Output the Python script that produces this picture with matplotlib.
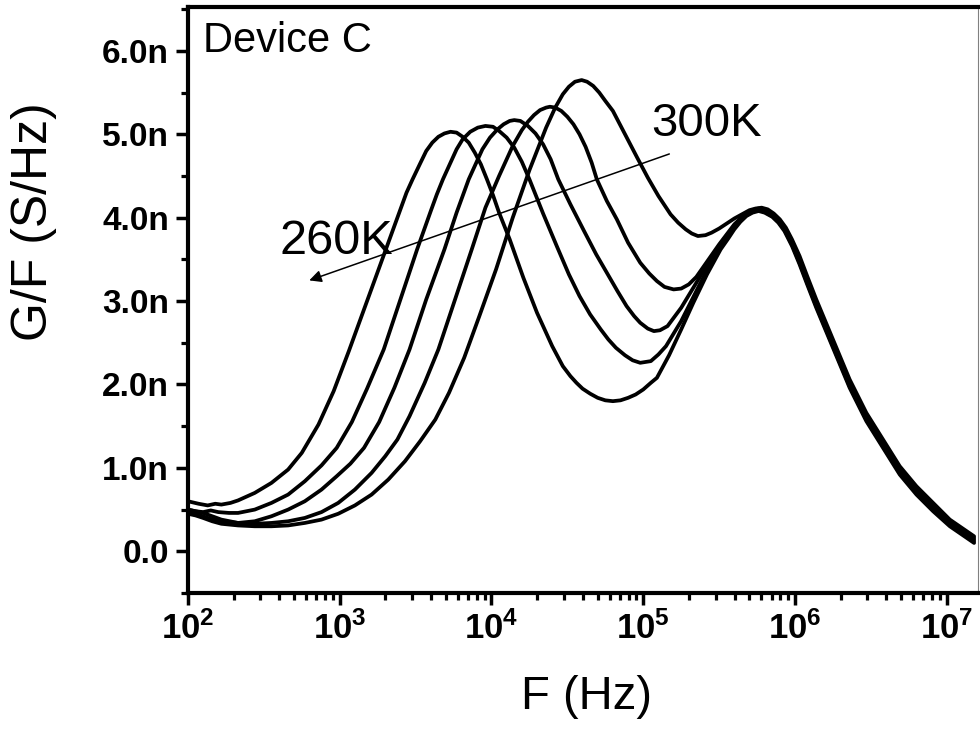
import numpy as np
import matplotlib

matplotlib.use('Agg')
import matplotlib.pyplot as plt
import matplotlib.ticker as ticker

plt.rcParams['font.family'] = ['Liberation Sans', 'DejaVu Sans']
plt.rcParams['mathtext.fontset'] = 'custom'
plt.rcParams['mathtext.rm'] = 'Liberation Sans'
plt.rcParams['mathtext.bf'] = 'Liberation Sans:bold'

# 数据：log10(F) 与 G/F (单位 nS/Hz)，260K ~ 300K
logf_260 = [2.00, 2.07, 2.13, 2.18, 2.22, 2.28, 2.33, 2.44, 2.55, 2.66, 2.75, 2.86, 2.96, 3.06, 3.18, 3.30,
            3.40, 3.44, 3.48, 3.53, 3.57, 3.61, 3.65, 3.69, 3.73, 3.77, 3.81, 3.85, 3.89, 3.93, 3.97, 4.01,
            4.05, 4.12, 4.21, 4.30, 4.40, 4.47, 4.52, 4.56, 4.60, 4.65, 4.70, 4.75, 4.80, 4.85, 4.90, 4.95,
            5.00, 5.05, 5.09, 5.17, 5.25, 5.33, 5.42, 5.51, 5.56, 5.60, 5.64, 5.68, 5.72, 5.76, 5.80, 5.85,
            5.89, 5.93, 5.98, 6.03, 6.08, 6.14, 6.25, 6.36, 6.47, 6.58, 6.69, 6.80, 6.91, 7.02, 7.10, 7.18]
gf_260 = [0.60, 0.57, 0.55, 0.57, 0.56, 0.58, 0.61, 0.70, 0.82, 0.98, 1.18, 1.52, 1.92, 2.40, 3.00, 3.60,
          4.10, 4.30, 4.46, 4.65, 4.80, 4.90, 4.97, 5.01, 5.03, 5.02, 4.97, 4.90, 4.78, 4.64, 4.46, 4.27,
          4.06, 3.74, 3.28, 2.86, 2.46, 2.22, 2.10, 2.02, 1.95, 1.89, 1.84, 1.81, 1.80, 1.81, 1.84, 1.88,
          1.94, 2.02, 2.08, 2.35, 2.66, 2.98, 3.32, 3.62, 3.75, 3.86, 3.95, 4.02, 4.06, 4.08, 4.06, 4.01,
          3.94, 3.84, 3.66, 3.44, 3.20, 2.92, 2.44, 1.96, 1.56, 1.24, 0.92, 0.68, 0.48, 0.30, 0.20, 0.10]

logf_270 = [2.00, 2.05, 2.10, 2.15, 2.20, 2.27, 2.33, 2.44, 2.55, 2.66, 2.77, 2.88, 2.98, 3.08, 3.18, 3.29,
            3.40, 3.51, 3.60, 3.64, 3.68, 3.73, 3.77, 3.81, 3.86, 3.91, 3.96, 4.01, 4.05, 4.10, 4.15, 4.20,
            4.25, 4.34, 4.43, 4.51, 4.58, 4.65, 4.72, 4.77, 4.82, 4.88, 4.93, 4.98, 5.05, 5.10, 5.15, 5.25,
            5.35, 5.45, 5.51, 5.56, 5.60, 5.64, 5.68, 5.72, 5.76, 5.80, 5.85, 5.89, 5.93, 5.98, 6.03, 6.08,
            6.14, 6.25, 6.36, 6.47, 6.58, 6.69, 6.80, 6.91, 7.02, 7.10, 7.18]
gf_270 = [0.50, 0.48, 0.47, 0.49, 0.47, 0.46, 0.46, 0.50, 0.58, 0.68, 0.84, 1.03, 1.24, 1.55, 1.95, 2.42,
          3.02, 3.62, 4.08, 4.28, 4.46, 4.66, 4.82, 4.94, 5.03, 5.08, 5.10, 5.09, 5.04, 4.96, 4.84, 4.67,
          4.46, 4.05, 3.66, 3.32, 3.06, 2.84, 2.66, 2.54, 2.44, 2.35, 2.29, 2.26, 2.28, 2.36, 2.46, 2.76,
          3.12, 3.48, 3.66, 3.79, 3.88, 3.97, 4.03, 4.07, 4.09, 4.07, 4.02, 3.95, 3.86, 3.68, 3.46, 3.22,
          2.94, 2.46, 1.98, 1.58, 1.26, 0.94, 0.70, 0.50, 0.32, 0.22, 0.12]

logf_280 = [2.00, 2.05, 2.10, 2.16, 2.22, 2.33, 2.44, 2.55, 2.66, 2.77, 2.88, 2.98, 3.07, 3.16, 3.26, 3.36,
            3.46, 3.57, 3.69, 3.77, 3.85, 3.90, 3.94, 3.99, 4.04, 4.08, 4.12, 4.15, 4.19, 4.24, 4.29, 4.34,
            4.39, 4.44, 4.52, 4.61, 4.69, 4.76, 4.83, 4.89, 4.94, 4.98, 5.03, 5.07, 5.11, 5.16, 5.25, 5.35,
            5.45, 5.51, 5.56, 5.60, 5.64, 5.68, 5.72, 5.76, 5.80, 5.85, 5.89, 5.93, 5.98, 6.03, 6.08, 6.14,
            6.25, 6.36, 6.47, 6.58, 6.69, 6.80, 6.91, 7.02, 7.10, 7.18]
gf_280 = [0.47, 0.45, 0.42, 0.38, 0.36, 0.34, 0.36, 0.42, 0.50, 0.60, 0.74, 0.90, 1.05, 1.24, 1.55, 1.96,
          2.42, 3.02, 3.62, 4.06, 4.46, 4.66, 4.82, 4.96, 5.06, 5.12, 5.16, 5.17, 5.16, 5.10, 5.01, 4.88,
          4.70, 4.46, 4.16, 3.84, 3.56, 3.34, 3.12, 2.94, 2.82, 2.74, 2.67, 2.64, 2.65, 2.70, 2.92, 3.22,
          3.52, 3.69, 3.81, 3.90, 3.98, 4.04, 4.08, 4.10, 4.08, 4.03, 3.96, 3.87, 3.70, 3.48, 3.24, 2.96,
          2.48, 2.00, 1.60, 1.28, 0.96, 0.72, 0.52, 0.34, 0.24, 0.14]

logf_290 = [2.00, 2.05, 2.10, 2.16, 2.22, 2.33, 2.44, 2.55, 2.66, 2.77, 2.88, 2.99, 3.10, 3.21, 3.30, 3.38,
            3.46, 3.56, 3.65, 3.76, 3.87, 3.96, 4.05, 4.14, 4.20, 4.24, 4.28, 4.32, 4.36, 4.385, 4.42, 4.46,
            4.50, 4.54, 4.58, 4.62, 4.66, 4.694, 4.76, 4.826, 4.90, 4.98, 5.04, 5.09, 5.14, 5.20, 5.25, 5.30,
            5.35, 5.40, 5.45, 5.50, 5.55, 5.60, 5.64, 5.68, 5.72, 5.76, 5.80, 5.85, 5.89, 5.93, 5.98, 6.03,
            6.08, 6.14, 6.25, 6.36, 6.47, 6.58, 6.69, 6.80, 6.91, 7.02, 7.10, 7.18]
gf_290 = [0.50, 0.48, 0.46, 0.42, 0.38, 0.34, 0.33, 0.34, 0.36, 0.40, 0.47, 0.58, 0.74, 0.94, 1.14, 1.34,
          1.62, 2.02, 2.42, 3.02, 3.62, 4.12, 4.50, 4.86, 5.05, 5.15, 5.23, 5.29, 5.32, 5.33, 5.32, 5.28,
          5.21, 5.12, 5.00, 4.85, 4.66, 4.46, 4.20, 3.98, 3.70, 3.46, 3.33, 3.24, 3.17, 3.14, 3.15, 3.20,
          3.29, 3.42, 3.55, 3.68, 3.80, 3.92, 3.99, 4.05, 4.09, 4.11, 4.09, 4.05, 3.97, 3.88, 3.71, 3.50,
          3.26, 2.98, 2.50, 2.02, 1.62, 1.30, 0.98, 0.74, 0.54, 0.36, 0.26, 0.16]

logf_300 = [2.00, 2.05, 2.10, 2.16, 2.22, 2.33, 2.44, 2.55, 2.66, 2.77, 2.88, 2.99, 3.10, 3.21, 3.32, 3.43,
            3.53, 3.63, 3.72, 3.82, 3.92, 4.03, 4.14, 4.25, 4.36, 4.42, 4.47, 4.51, 4.55, 4.594, 4.63, 4.67,
            4.71, 4.75, 4.80, 4.88, 4.96, 5.03, 5.10, 5.18, 5.23, 5.28, 5.32, 5.36, 5.41, 5.45, 5.50, 5.55,
            5.60, 5.65, 5.70, 5.74, 5.78, 5.82, 5.86, 5.90, 5.94, 5.98, 6.03, 6.08, 6.14, 6.25, 6.36, 6.47,
            6.58, 6.69, 6.80, 6.91, 7.02, 7.10, 7.18]
gf_300 = [0.45, 0.43, 0.40, 0.36, 0.33, 0.31, 0.30, 0.30, 0.31, 0.34, 0.38, 0.45, 0.55, 0.68, 0.86, 1.08,
          1.32, 1.58, 1.90, 2.32, 2.82, 3.38, 4.00, 4.57, 5.08, 5.32, 5.48, 5.57, 5.63, 5.65, 5.63, 5.58,
          5.50, 5.40, 5.28, 5.00, 4.72, 4.48, 4.26, 4.04, 3.94, 3.86, 3.81, 3.78, 3.79, 3.82, 3.87, 3.93,
          3.99, 4.04, 4.09, 4.11, 4.12, 4.10, 4.05, 3.98, 3.88, 3.74, 3.54, 3.30, 3.02, 2.54, 2.06, 1.66,
          1.34, 1.02, 0.78, 0.58, 0.38, 0.28, 0.18]

curves = [(logf_260, gf_260), (logf_270, gf_270), (logf_280, gf_280),
          (logf_290, gf_290), (logf_300, gf_300)]

y_ticks = [0, 1, 2, 3, 4, 5, 6]
y_labels = ['0.0', '1.0n', '2.0n', '3.0n', '4.0n', '5.0n', '6.0n']
x_ticks = [1e2, 1e3, 1e4, 1e5, 1e6, 1e7]
x_labels = [r'$\mathbf{10^{2}}$', r'$\mathbf{10^{3}}$', r'$\mathbf{10^{4}}$',
            r'$\mathbf{10^{5}}$', r'$\mathbf{10^{6}}$', r'$\mathbf{10^{7}}$']

fig = plt.figure(figsize=(9.8, 7.35), dpi=100)
ax = fig.add_axes([0.1918, 0.1932, 0.8062, 0.7966])

for lf, g in curves:
    ax.plot(10 ** np.array(lf), g, color='black', linewidth=2.7,
            solid_capstyle='round', solid_joinstyle='round')

ax.set_xscale('log')
ax.set_xlim(1e2, 10 ** 7.206)
ax.set_ylim(-0.5, 6.52)

ax.set_xticks(x_ticks)
ax.set_xticklabels(x_labels, fontsize=25)
ax.xaxis.set_minor_locator(ticker.LogLocator(base=10, subs=np.arange(2, 10), numticks=20))
ax.xaxis.set_minor_formatter(ticker.NullFormatter())
ax.set_yticks(y_ticks)
ax.set_yticklabels(y_labels, fontsize=24, fontweight='bold')
ax.yaxis.set_minor_locator(ticker.MultipleLocator(0.5))

ax.tick_params(which='major', direction='out', length=8.5, width=2.5, pad=5)
ax.tick_params(which='minor', direction='out', length=5, width=2.3)

for s in ['left', 'bottom', 'top']:
    ax.spines[s].set_linewidth(3.0)
ax.spines['right'].set_linewidth(0.8)
ax.spines['right'].set_color('gray')

ax.set_xlabel('F (Hz)', fontsize=34)
ax.xaxis.set_label_coords(0.504, -0.14)
ax.set_ylabel('G/F (S/Hz)', fontsize=36)
ax.yaxis.set_label_coords(-0.166, 0.634)

ax.text(0.019, 0.924, 'Device C', transform=ax.transAxes, fontsize=30, va='baseline', ha='left')
ax.text(1.13e5, 4.98, '300K', fontsize=34, va='baseline', ha='left')
ax.text(4.0e2, 3.56, '260K', fontsize=35, va='baseline', ha='left')
ax.annotate('', xy=(10 ** 2.782, 3.237), xytext=(10 ** 5.189, 4.775),
            arrowprops=dict(arrowstyle='-|>', color='black', lw=1.1, mutation_scale=18))

plt.savefig('out.png', dpi=100)
